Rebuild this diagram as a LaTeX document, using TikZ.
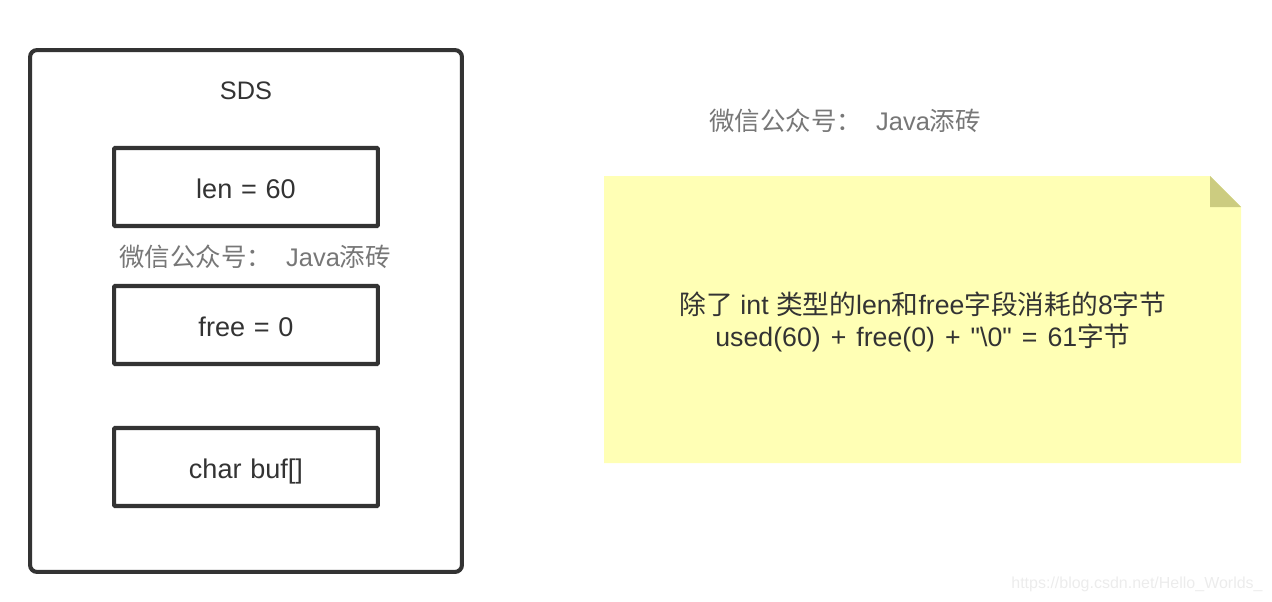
\documentclass[tikz,border=0pt]{standalone}
\usepackage{fontspec}
\setmainfont{Liberation Sans}
\newfontfamily\rawsans{Liberation Sans}
\newfontfamily\cjk{Noto Sans CJK SC}
\definecolor{inkdark}{HTML}{333333}
\definecolor{wxgray}{HTML}{777777}
\definecolor{noteyellow}{HTML}{FFFFB5}
\definecolor{notefold}{HTML}{CCCC80}
\definecolor{marklight}{HTML}{ECECEC}
\begin{document}
\begin{tikzpicture}[x=0.02cm,y=-0.02cm]
            \tikzset{field/.style = {shape=rectangle,draw=inkdark,line width=2.3pt,rounded corners=0.6pt,minimum width=5.28cm,minimum height=1.56cm,inner sep=0pt,text=inkdark,text height=13.4pt,text depth=0pt,font=\fontsize{15.4}{18}\selectfont,execute at begin node={\spaceskip=5pt\relax}}}
            \tikzset{plain/.style = {inner sep=0pt,text=inkdark,font=\fontsize{15.2}{18}\selectfont}}
            \tikzset{wechat/.style = {inner sep=0pt,text=wxgray,font=\fontsize{14.5}{18}\selectfont}}
            \useasboundingbox (0,0) rectangle (1272,602);
            % outer box
            \node[draw=inkdark,line width=2.3pt,rounded corners=4pt,minimum width=8.64cm,minimum height=10.44cm,inner sep=0pt] (sds) at (246,311) {};
            \node[plain,font=\fontsize{14.4}{18}\selectfont] (title) at (246,91) {SDS};
            % fields
            \node[field] (len) at (246,187) {len = 60};
            \node[wechat] (mark1) at (255,257) {{\cjk 微信公众号：}\ \ Java{\cjk 添砖}};
            \node[field] (free) at (246,325) {free = 0};
            \node[field] (buf) at (246,467) {char buf[]};
            % note
            \fill[noteyellow] (604,176) -- (1210,176) -- (1241,207) -- (1241,463) -- (604,463) -- cycle;
            \fill[notefold] (1210,176) -- (1241,207) -- (1210,207) -- cycle;
            \node[wechat] (mark2) at (845,121) {{\cjk 微信公众号：}\ \ Java{\cjk 添砖}};
            \node[plain,align=center] (note) at (923,322) {{\cjk 除了} int {\cjk 类型的}len{\cjk 和}free{\cjk 字段消耗的}8{\cjk 字节}\\{\spaceskip=5.7pt used(60) + free(0) + {\rawsans "}\textbackslash 0{\rawsans "} = 61{\cjk 字节}}};
            % watermark
            \node[inner sep=0pt,text=marklight,font=\fontsize{9.1}{12}\selectfont] (blog) at (1137,584) {https://blog.csdn.net/Hello\_Worlds\_};
\end{tikzpicture}
\end{document}
